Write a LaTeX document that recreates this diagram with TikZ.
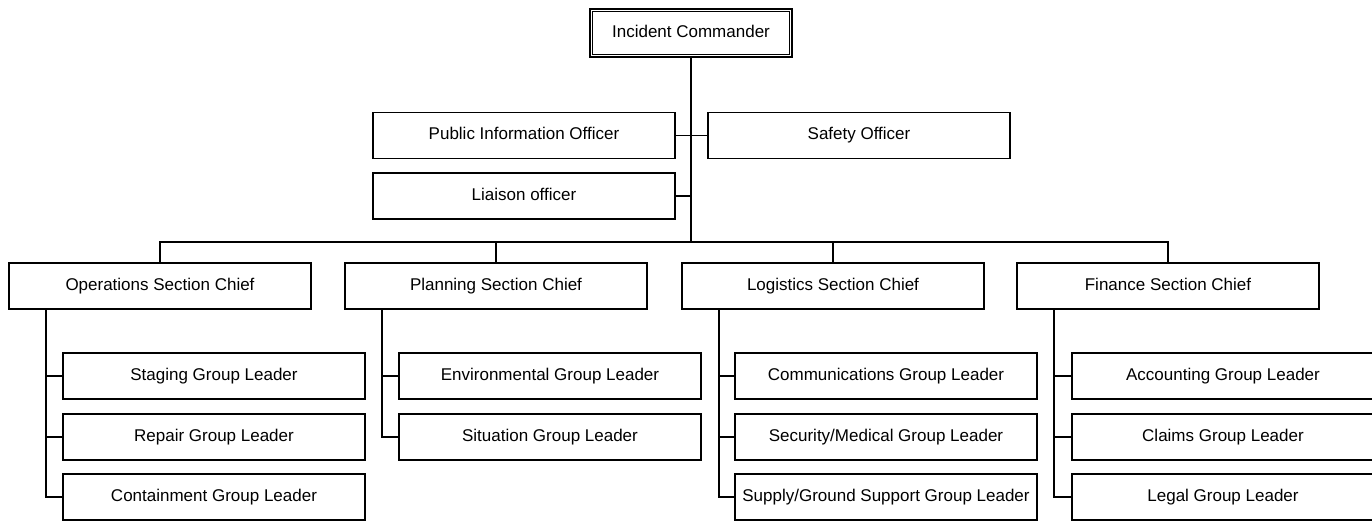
\documentclass[tikz,border=0pt]{standalone}
\usepackage{fontspec}
\setmainfont{Liberation Sans}
\usetikzlibrary{calc}
\begin{document}
\begin{tikzpicture}[x=0.5pt,y=-0.5pt,
  boxtext/.style={inner sep=0pt, text height=6.2pt, text depth=1.8pt,
    font=\fontsize{8.5}{10}\selectfont},
  box/.style={boxtext, draw, line width=0.8pt, minimum width=151pt, minimum height=23pt},
  link/.style={line width=0.8pt}]
\useasboundingbox (0,0) rectangle (1372,521);
% commander
\node[boxtext, draw, line width=1.2pt, minimum width=101pt, minimum height=24pt] (cmd) at (691,33) {Incident Commander};
\draw[line width=0.6pt] ($(cmd.north west)+(4,4)$) rectangle ($(cmd.south east)+(-4,-4)$);
% command staff
\node[box] (pio) at (524,135.5) {Public Information Officer};
\node[box] (safety) at (859,135.5) {Safety Officer};
\node[box] (liaison) at (524,196) {Liaison officer};
% sections
\node[box] (ops) at (160,286) {Operations Section Chief};
\node[box] (plan) at (496,286) {Planning Section Chief};
\node[box] (logi) at (833,286) {Logistics Section Chief};
\node[box] (fin) at (1168,286) {Finance Section Chief};
% groups
\node[box] (o1) at (214,376) {Staging Group Leader};
\node[box] (o2) at (214,437) {Repair Group Leader};
\node[box] (o3) at (214,497) {Containment Group Leader};
\node[box] (p1) at (550,376) {Environmental Group Leader};
\node[box] (p2) at (550,437) {Situation Group Leader};
\node[box] (l1) at (886,376) {Communications Group Leader};
\node[box] (l2) at (886,437) {Security/Medical Group Leader};
\node[box] (l3) at (886,497) {Supply/Ground Support Group Leader};
\node[box] (f1) at (1223,376) {Accounting Group Leader};
\node[box] (f2) at (1223,437) {Claims Group Leader};
\node[box] (f3) at (1223,497) {Legal Group Leader};
% connectors
\coordinate (bus) at (691,242);
\draw[link] (cmd.south) -- (bus);
\draw[link] (pio.east) -- (safety.west);
\draw[link] (liaison.east) -- (liaison.east -| cmd.south);
\draw[link] (ops.north) |- (bus) -| (fin.north);
\draw[link] (plan.north) -- (plan.north |- bus);
\draw[link] (logi.north) -- (logi.north |- bus);
\coordinate (ov) at ($(ops.south west)+(38,0)$);
\coordinate (pv) at ($(plan.south west)+(38,0)$);
\coordinate (lv) at ($(logi.south west)+(38,0)$);
\coordinate (fv) at ($(fin.south west)+(38,0)$);
\draw[link] (ov) |- (o3.west);
\draw[link] (o1.west -| ov) -- (o1.west);
\draw[link] (o2.west -| ov) -- (o2.west);
\draw[link] (pv) |- (p2.west);
\draw[link] (p1.west -| pv) -- (p1.west);
\draw[link] (lv) |- (l3.west);
\draw[link] (l1.west -| lv) -- (l1.west);
\draw[link] (l2.west -| lv) -- (l2.west);
\draw[link] (fv) |- (f3.west);
\draw[link] (f1.west -| fv) -- (f1.west);
\draw[link] (f2.west -| fv) -- (f2.west);
\end{tikzpicture}
\end{document}
